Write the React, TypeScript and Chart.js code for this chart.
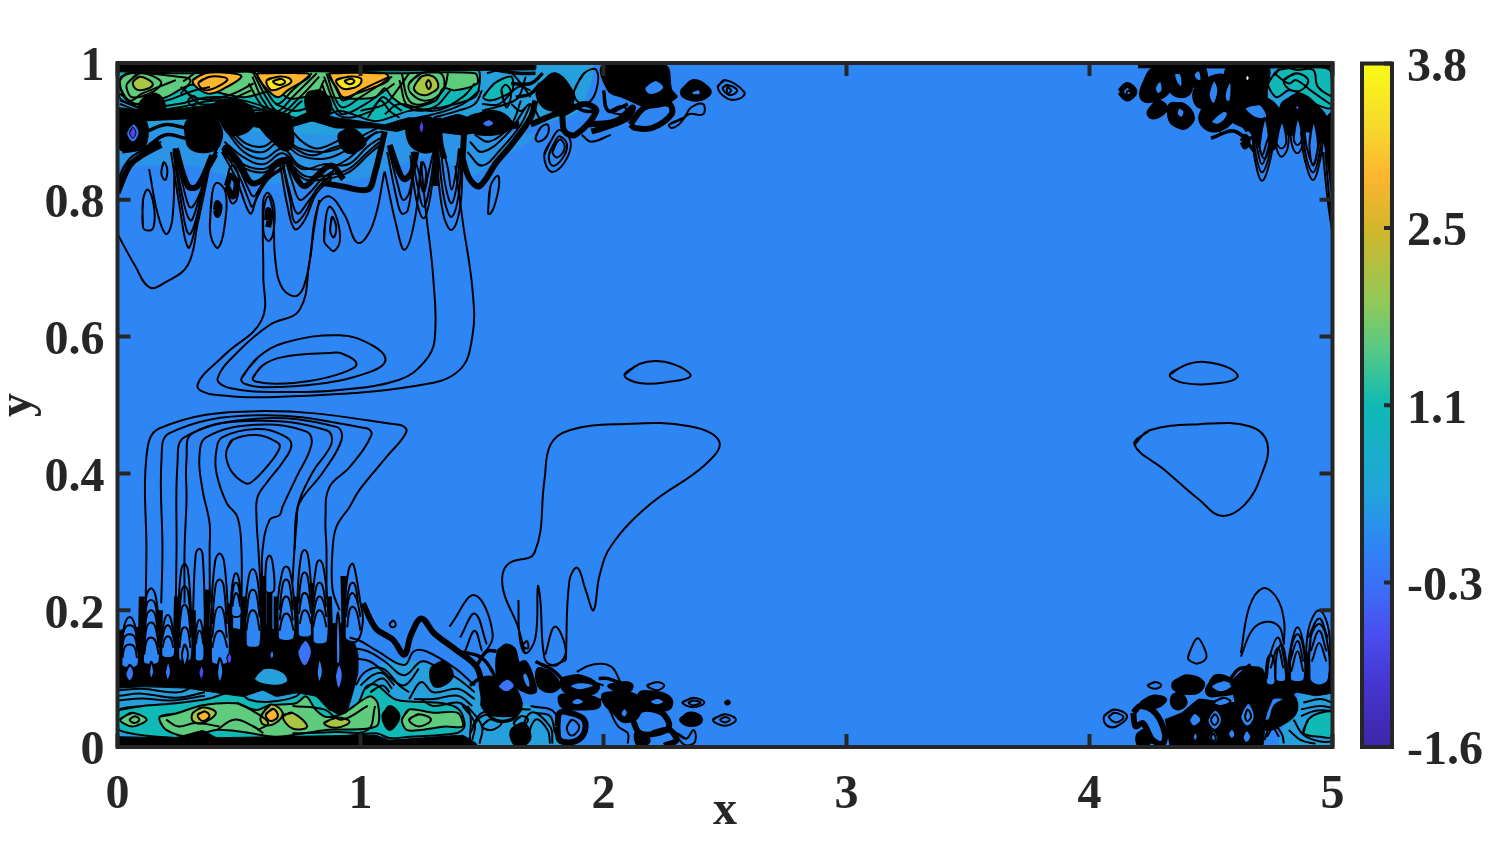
import React, { useEffect, useRef } from "react";
import { Chart, registerables } from "chart.js";

Chart.register(...registerables);

type P = [number, number];

const xTicksMax = 5;
const colorbarTicks = [-1.6, -0.3, 1.1, 2.5, 3.8];
const colorbarStops: [number, string][] = [
  [-1.6, "#3e26a8"], [-1.1, "#4536d0"], [-0.7, "#4a4ef0"], [-0.3, "#3a72f8"], [0.0, "#2e86f5"],
  [0.4, "#22a4dc"], [1.1, "#0fb9b5"], [1.5, "#50c98a"], [1.9, "#8fc95a"], [2.5, "#d3b62a"],
  [2.9, "#fdb52f"], [3.3, "#f6d92c"], [3.8, "#f9fb15"],
];

const level02Regions: P[][] = [
  [[0, 0.905], [0.5, 0.9], [1.2, 0.9], [1.72, 0.895], [1.55, 0.855], [1.45, 0.835], [1.3, 0.865], [1.0, 0.83], [0.75, 0.82], [0.5, 0.83], [0.3, 0.85], [0, 0.85]],
];
const level05Regions: P[][] = [
  [[0, 1], [1.95, 1], [1.9, 0.93], [1.72, 0.91], [1.5, 0.9], [1.2, 0.9], [0.9, 0.895], [0.5, 0.9], [0, 0.905]],
  [[0, 0.095], [0.6, 0.095], [1.0, 0.1], [1.1, 0.125], [1.25, 0.125], [1.42, 0.1], [1.55, 0.07], [1.7, 0.06], [1.8, 0.04], [1.81, 0], [0, 0]],
  [[4.86, 0.075], [5, 0.08], [5, 0], [4.78, 0], [4.8, 0.03], [4.84, 0.05]],
  [[4.66, 1], [5, 1], [5, 0.9], [4.85, 0.93], [4.72, 0.93]],
];
const level11Regions: P[][] = [
  [[0.008, 0.99], [1.48, 0.99], [1.49, 0.97], [1.47, 0.95], [1.33, 0.935], [1.2, 0.93], [1.06, 0.915], [0.92, 0.93], [0.83, 0.92], [0.73, 0.92], [0.65, 0.93], [0.38, 0.93], [0.13, 0.93], [0.05, 0.94], [0.008, 0.95]],
  [[1.505, 0.95], [1.55, 0.97], [1.62, 0.98], [1.625, 0.96], [1.58, 0.95], [1.53, 0.945]],
  [[0.005, 0.054], [0.104, 0.06], [0.241, 0.064], [0.379, 0.071], [0.488, 0.082], [0.543, 0.069], [0.625, 0.066], [0.735, 0.074], [0.776, 0.088], [0.817, 0.081], [0.9, 0.05], [0.982, 0.059], [1.023, 0.088], [1.064, 0.091], [1.147, 0.069], [1.339, 0.064], [1.408, 0.054], [1.428, 0.03], [1.394, 0.02], [1.202, 0.015], [1.119, 0.013], [1.064, 0.02], [0.79, 0.01], [0.516, 0.01], [0.241, 0.013], [0.005, 0.025]],
  [[4.735, 0.97], [4.78, 0.99], [4.99, 0.99], [4.995, 0.935], [4.93, 0.94], [4.87, 0.955], [4.82, 0.96], [4.77, 0.95]],
  [[4.88, 0.02], [4.9, 0.04], [4.95, 0.05], [5, 0.05], [5, 0.015], [4.95, 0.015]],
  [[4.78, 0.04], [4.79, 0.045], [4.805, 0.04], [4.79, 0.035]],
  [[0.44, 0.917], [0.455, 0.923], [0.47, 0.917], [0.455, 0.911]],
];
const level17Regions: P[][] = [
  [[0.012, 0.978], [0.05, 0.985], [0.28, 0.985], [0.57, 0.988], [0.82, 0.988], [1.13, 0.985], [1.47, 0.985], [1.48, 0.97], [1.39, 0.96], [1.34, 0.963], [1.31, 0.945], [1.2, 0.935], [1.13, 0.95], [1.1, 0.963], [1.06, 0.95], [0.93, 0.948], [0.82, 0.953], [0.71, 0.948], [0.65, 0.96], [0.52, 0.95], [0.38, 0.96], [0.3, 0.968], [0.2, 0.95], [0.06, 0.94], [0.02, 0.955]],
  [[0.173, 0.044], [0.241, 0.049], [0.351, 0.061], [0.488, 0.064], [0.57, 0.054], [0.625, 0.061], [0.735, 0.064], [0.776, 0.074], [0.817, 0.054], [0.859, 0.044], [0.927, 0.049], [1.037, 0.074], [1.071, 0.064], [1.064, 0.03], [0.859, 0.025], [0.653, 0.015], [0.516, 0.022], [0.406, 0.025], [0.296, 0.015], [0.2, 0.025]],
  [[0.01, 0.04], [0.06, 0.05], [0.12, 0.04], [0.06, 0.03]],
  [[1.17, 0.04], [1.2, 0.055], [1.3, 0.05], [1.4, 0.05], [1.42, 0.03], [1.35, 0.03], [1.25, 0.025], [1.19, 0.025]],
];
const level21Regions: P[][] = [
  [[0.063, 0.972], [0.09, 0.98], [0.13, 0.975], [0.145, 0.968], [0.12, 0.962], [0.08, 0.961]],
  [[1.22, 0.965], [1.25, 0.98], [1.3, 0.98], [1.32, 0.965], [1.285, 0.955], [1.26, 0.953], [1.23, 0.957]],
  [[0.31, 0.05], [0.35, 0.058], [0.405, 0.05], [0.35, 0.035], [0.31, 0.038]],
  [[0.59, 0.045], [0.63, 0.062], [0.68, 0.05], [0.65, 0.035], [0.6, 0.033]],
  [[0.68, 0.045], [0.72, 0.05], [0.78, 0.03], [0.72, 0.027]],
  [[0.85, 0.035], [0.9, 0.043], [0.955, 0.037], [0.9, 0.028]],
];
const level28Regions: P[][] = [
  [[0.31, 0.975], [0.36, 0.985], [0.47, 0.985], [0.51, 0.98], [0.45, 0.965], [0.38, 0.955], [0.33, 0.963]],
  [[0.58, 0.985], [0.78, 0.985], [0.79, 0.98], [0.7, 0.96], [0.66, 0.95], [0.62, 0.96], [0.585, 0.975]],
  [[0.875, 0.985], [1.1, 0.985], [1.115, 0.975], [1.06, 0.965], [0.98, 0.955], [0.93, 0.95], [0.9, 0.965], [0.875, 0.978]],
  [[0.335, 0.972], [0.38, 0.98], [0.44, 0.979], [0.452, 0.975], [0.41, 0.965], [0.37, 0.96], [0.345, 0.963]],
  [[0.33, 0.047], [0.36, 0.052], [0.378, 0.045], [0.35, 0.038]],
  [[0.61, 0.047], [0.64, 0.056], [0.66, 0.045], [0.63, 0.038]],
];
const level36Regions: P[][] = [
  [[0.615, 0.975], [0.66, 0.98], [0.705, 0.978], [0.715, 0.972], [0.68, 0.965], [0.64, 0.96], [0.62, 0.965]],
  [[0.9, 0.975], [0.95, 0.98], [1.0, 0.978], [1.0, 0.97], [0.965, 0.963], [0.925, 0.963]],
];

const blackStrips: P[][] = [
  [[0, 1], [1.72, 1], [1.72, 0.99], [0, 0.987]],
  [[0, 0.935], [0.12, 0.93], [0.3, 0.935], [0.42, 0.94], [0.52, 0.93], [0.6, 0.918], [0.7, 0.915], [0.8, 0.93], [0.9, 0.92], [1.0, 0.915], [1.1, 0.91], [1.2, 0.92], [1.3, 0.915], [1.4, 0.925], [1.49, 0.915], [1.55, 0.92], [1.6, 0.91], [1.65, 0.915], [1.65, 0.905], [1.5, 0.9], [1.42, 0.895], [1.3, 0.9], [1.2, 0.905], [1.15, 0.9], [1.05, 0.905], [0.9, 0.905], [0.8, 0.915], [0.7, 0.905], [0.6, 0.905], [0.5, 0.91], [0.4, 0.915], [0.28, 0.918], [0.1, 0.915], [0, 0.91]],
  [[0.005, 0.015], [0.241, 0.014], [0.351, 0.024], [0.406, 0.014], [0.625, 0.015], [1.064, 0.017], [1.119, 0.01], [1.42, 0.017], [1.476, 0.005], [1.48, 0], [0, 0]],
  [[0, 0.17], [0.09, 0.175], [0.14, 0.165], [0.25, 0.17], [0.31, 0.175], [0.38, 0.175], [0.455, 0.175], [0.53, 0.17], [0.6, 0.18], [0.65, 0.17], [0.735, 0.175], [0.804, 0.175], [0.872, 0.18], [0.927, 0.18], [0.961, 0.166], [0.989, 0.137], [0.989, 0.108], [0.968, 0.079], [0.941, 0.05], [0.872, 0.054], [0.817, 0.074], [0.735, 0.079], [0.653, 0.074], [0.598, 0.083], [0.516, 0.074], [0.379, 0.081], [0.282, 0.086], [0.104, 0.088], [0, 0.086]],
  [[4.2, 1], [5, 1], [5, 0.993], [4.2, 0.993]],
  [[4.58, 0.095], [4.64, 0.115], [4.71, 0.115], [4.73, 0.1], [4.78, 0.12], [4.81, 0.1], [4.84, 0.125], [4.89, 0.1], [4.9, 0.14], [5, 0.14], [5, 0.08], [4.93, 0.075], [4.85, 0.08], [4.8, 0.06], [4.72, 0.05], [4.6, 0.06]],
  [[4.31, 0.04], [4.38, 0.05], [4.45, 0.07], [4.55, 0.065], [4.6, 0.065], [4.68, 0.07], [4.72, 0.05], [4.71, 0], [4.33, 0]],
  [[4.95, 0.91], [5, 0.93], [5, 0.82], [4.98, 0.85]],
];

const blackMasses: P[][] = [
  [[0.09, 0.94], [0.13, 0.955], [0.18, 0.95], [0.195, 0.925], [0.15, 0.918], [0.1, 0.92]],
  [[0.008, 0.917], [0.06, 0.92], [0.115, 0.915], [0.12, 0.885], [0.09, 0.875], [0.008, 0.875]],
  [[0.285, 0.915], [0.35, 0.92], [0.42, 0.91], [0.42, 0.88], [0.37, 0.87], [0.3, 0.875], [0.28, 0.895]],
  [[0.41, 0.945], [0.5, 0.945], [0.56, 0.93], [0.55, 0.905], [0.47, 0.895], [0.43, 0.91], [0.41, 0.93]],
  [[0.56, 0.925], [0.7, 0.925], [0.72, 0.905], [0.72, 0.88], [0.69, 0.872], [0.65, 0.882], [0.6, 0.9]],
  [[0.78, 0.955], [0.83, 0.96], [0.875, 0.945], [0.87, 0.925], [0.82, 0.917], [0.78, 0.93]],
  [[0.91, 0.895], [0.96, 0.905], [1.02, 0.885], [0.99, 0.872], [0.94, 0.87]],
  [[1.2, 0.915], [1.29, 0.92], [1.3, 0.885], [1.29, 0.87], [1.22, 0.875], [1.19, 0.895]],
  [[1.44, 0.92], [1.55, 0.93], [1.62, 0.915], [1.6, 0.9], [1.5, 0.895], [1.44, 0.905]],
  [[1.73, 0.965], [1.8, 0.985], [1.87, 0.96], [1.87, 0.94], [1.8, 0.93], [1.74, 0.94]],
  [[2.0, 0.997], [2.25, 0.997], [2.28, 0.96], [2.3, 0.95], [2.2, 0.935], [2.08, 0.95], [2.02, 0.96]],
  [[2.32, 0.96], [2.37, 0.975], [2.43, 0.965], [2.44, 0.955], [2.39, 0.945], [2.33, 0.95]],
  [[1.09, 0.045], [1.12, 0.06], [1.16, 0.045], [1.12, 0.025]],
  [[1.29, 0.115], [1.34, 0.125], [1.38, 0.105], [1.34, 0.09], [1.3, 0.09]],
  [[1.565, 0.14], [1.6, 0.15], [1.64, 0.14], [1.645, 0.09], [1.6, 0.09], [1.565, 0.1]],
  [[1.5, 0.1], [1.6, 0.1], [1.66, 0.07], [1.65, 0.05], [1.6, 0.045], [1.52, 0.05], [1.5, 0.07]],
  [[1.64, 0.12], [1.68, 0.125], [1.72, 0.09], [1.72, 0.08], [1.68, 0.08], [1.64, 0.09]],
  [[1.73, 0.115], [1.78, 0.11], [1.82, 0.09], [1.78, 0.08], [1.73, 0.09]],
  [[1.83, 0.1], [1.9, 0.105], [1.98, 0.09], [1.96, 0.078], [1.87, 0.077], [1.83, 0.085]],
  [[1.82, 0.075], [1.9, 0.077], [1.98, 0.07], [1.98, 0.058], [1.9, 0.055], [1.83, 0.058]],
  [[2.02, 0.09], [2.09, 0.095], [2.12, 0.09], [2.1, 0.08], [2.05, 0.082]],
  [[2.0, 0.078], [2.1, 0.08], [2.15, 0.07], [2.15, 0.05], [2.13, 0.04], [2.08, 0.037], [2.04, 0.05], [2.0, 0.065]],
  [[2.15, 0.08], [2.23, 0.08], [2.28, 0.07], [2.27, 0.055], [2.2, 0.055], [2.15, 0.06]],
  [[2.13, 0.02], [2.16, 0.022], [2.19, 0.01], [2.17, 0.002], [2.14, 0.002]],
  [[2.315, 0.04], [2.35, 0.05], [2.4, 0.045], [2.4, 0.035], [2.35, 0.031]],
  [[2.5, 0.065], [2.511, 0.068], [2.52, 0.065], [2.511, 0.062]],
  [[1.62, 0.025], [1.67, 0.035], [1.7, 0.015], [1.67, 0.002], [1.63, 0.005]],
  [[4.57, 0.995], [4.73, 0.995], [4.73, 0.96], [4.72, 0.94], [4.66, 0.935], [4.58, 0.95]],
  [[4.79, 0.94], [4.86, 0.955], [4.93, 0.94], [4.99, 0.91], [4.99, 0.88], [4.9, 0.9], [4.82, 0.895], [4.79, 0.91]],
  [[4.21, 0.96], [4.25, 0.99], [4.31, 0.997], [4.33, 0.96], [4.27, 0.945], [4.22, 0.945]],
  [[4.33, 0.997], [4.41, 0.997], [4.42, 0.96], [4.38, 0.95], [4.33, 0.96]],
  [[4.42, 0.995], [4.47, 0.995], [4.48, 0.97], [4.43, 0.965]],
  [[4.24, 0.93], [4.28, 0.945], [4.32, 0.935], [4.29, 0.922], [4.25, 0.92]],
  [[4.33, 0.94], [4.39, 0.94], [4.43, 0.92], [4.4, 0.905], [4.37, 0.905], [4.33, 0.915]],
  [[4.43, 0.96], [4.5, 0.98], [4.56, 0.98], [4.54, 0.94], [4.45, 0.935]],
  [[4.46, 0.93], [4.52, 0.95], [4.6, 0.95], [4.6, 0.92], [4.52, 0.9], [4.46, 0.91]],
  [[4.58, 0.92], [4.65, 0.955], [4.72, 0.95], [4.78, 0.93], [4.77, 0.88], [4.72, 0.87], [4.66, 0.9]],
  [[4.195, 0.018], [4.225, 0.025], [4.26, 0.01], [4.23, 0.002], [4.2, 0.002]],
  [[4.34, 0.075], [4.37, 0.08], [4.4, 0.065], [4.37, 0.055], [4.34, 0.06]],
  [[4.345, 0.095], [4.4, 0.105], [4.47, 0.095], [4.45, 0.08], [4.39, 0.078], [4.345, 0.085]],
  [[4.48, 0.085], [4.52, 0.105], [4.6, 0.095], [4.6, 0.08], [4.53, 0.075], [4.49, 0.075]],
  [[4.21, 0.065], [4.26, 0.075], [4.315, 0.07], [4.28, 0.058], [4.22, 0.058]],
  [[4.7, 0.06], [4.76, 0.085], [4.84, 0.075], [4.85, 0.05], [4.78, 0.03], [4.74, 0.025], [4.7, 0.03]],
];

const blueHoles: P[][] = [
  [[0.016, 0.12], [0.018, 0.15], [0.03, 0.18], [0.05, 0.19], [0.07, 0.18], [0.082, 0.15], [0.085, 0.12], [0.05, 0.115]],
  [[0.105, 0.125], [0.107, 0.18], [0.12, 0.222], [0.138, 0.232], [0.156, 0.222], [0.17, 0.18], [0.172, 0.125], [0.138, 0.12]],
  [[0.18, 0.135], [0.182, 0.16], [0.194, 0.186], [0.207, 0.193], [0.22, 0.186], [0.232, 0.16], [0.235, 0.135], [0.207, 0.13]],
  [[0.25, 0.13], [0.25, 0.2], [0.262, 0.258], [0.276, 0.268], [0.29, 0.258], [0.302, 0.2], [0.305, 0.13], [0.276, 0.125]],
  [[0.318, 0.13], [0.32, 0.16], [0.328, 0.18], [0.337, 0.186], [0.346, 0.18], [0.354, 0.16], [0.356, 0.13], [0.337, 0.125]],
  [[0.385, 0.125], [0.386, 0.2], [0.402, 0.272], [0.42, 0.283], [0.438, 0.272], [0.454, 0.2], [0.458, 0.125], [0.42, 0.12]],
  [[0.468, 0.195], [0.469, 0.225], [0.478, 0.248], [0.488, 0.254], [0.498, 0.248], [0.507, 0.225], [0.51, 0.195], [0.488, 0.19]],
  [[0.528, 0.15], [0.528, 0.21], [0.542, 0.252], [0.557, 0.26], [0.572, 0.252], [0.586, 0.21], [0.588, 0.15], [0.557, 0.145]],
  [[0.608, 0.23], [0.612, 0.27], [0.625, 0.28], [0.638, 0.27], [0.645, 0.23], [0.625, 0.225]],
  [[0.66, 0.16], [0.66, 0.215], [0.678, 0.256], [0.694, 0.264], [0.71, 0.256], [0.726, 0.215], [0.728, 0.16], [0.694, 0.155]],
  [[0.742, 0.165], [0.742, 0.23], [0.756, 0.28], [0.77, 0.288], [0.784, 0.28], [0.797, 0.23], [0.8, 0.165], [0.77, 0.16]],
  [[0.803, 0.155], [0.804, 0.22], [0.818, 0.265], [0.831, 0.273], [0.846, 0.265], [0.862, 0.22], [0.865, 0.155], [0.831, 0.15]],
  [[0.9, 0.125], [0.9, 0.17], [0.907, 0.197], [0.915, 0.17], [0.916, 0.125], [0.907, 0.12]],
  [[0.935, 0.16], [0.938, 0.22], [0.952, 0.26], [0.968, 0.268], [0.982, 0.25], [1.0, 0.21], [1.01, 0.185], [0.985, 0.155]],
  [[0.13, 0.11], [0.138, 0.125], [0.15, 0.11], [0.138, 0.1]],
  [[0.265, 0.135], [0.276, 0.15], [0.29, 0.135], [0.276, 0.12]],
  [[0.41, 0.11], [0.42, 0.13], [0.435, 0.11], [0.42, 0.095]],
  [[0.82, 0.11], [0.83, 0.13], [0.845, 0.11], [0.83, 0.095]],
  [[2.17, 0.965], [2.21, 0.975], [2.25, 0.965], [2.22, 0.955], [2.18, 0.955]],
  [[2.36, 0.957], [2.39, 0.962], [2.4, 0.955], [2.37, 0.953]],
  [[1.665, 0.105], [1.68, 0.11], [1.7, 0.09], [1.685, 0.087]],
  [[1.86, 0.09], [1.9, 0.095], [1.96, 0.09], [1.9, 0.083]],
  [[1.865, 0.066], [1.89, 0.072], [1.92, 0.066], [1.89, 0.061]],
  [[2.07, 0.05], [2.085, 0.057], [2.1, 0.05], [2.085, 0.043]],
  [[2.19, 0.067], [2.22, 0.072], [2.25, 0.066], [2.22, 0.061]],
  [[4.27, 0.965], [4.29, 0.975], [4.3, 0.96], [4.28, 0.955]],
  [[4.35, 0.985], [4.375, 0.985], [4.38, 0.965], [4.36, 0.97]],
  [[4.43, 0.985], [4.45, 0.99], [4.46, 0.975], [4.44, 0.975]],
  [[4.49, 0.955], [4.51, 0.975], [4.53, 0.96], [4.51, 0.94]],
  [[4.56, 0.96], [4.58, 0.975], [4.58, 0.945], [4.56, 0.945]],
  [[4.37, 0.935], [4.39, 0.93], [4.38, 0.92], [4.36, 0.925]],
  [[4.5, 0.915], [4.55, 0.93], [4.57, 0.925], [4.53, 0.91]],
  [[4.64, 0.935], [4.7, 0.94], [4.73, 0.92], [4.68, 0.92]],
  [[4.7, 0.88], [4.72, 0.92], [4.74, 0.88], [4.72, 0.86]],
  [[4.77, 0.885], [4.79, 0.915], [4.81, 0.885], [4.79, 0.875]],
  [[4.84, 0.89], [4.855, 0.92], [4.875, 0.89], [4.855, 0.88]],
  [[4.905, 0.88], [4.92, 0.915], [4.94, 0.88], [4.92, 0.85]],
  [[4.725, 0.095], [4.73, 0.125], [4.745, 0.135], [4.76, 0.125], [4.765, 0.095], [4.745, 0.09]],
  [[4.765, 0.1], [4.77, 0.135], [4.79, 0.15], [4.805, 0.135], [4.81, 0.1], [4.79, 0.095]],
  [[4.825, 0.1], [4.83, 0.145], [4.856, 0.165], [4.88, 0.145], [4.885, 0.1], [4.856, 0.095]],
  [[4.905, 0.1], [4.91, 0.16], [4.945, 0.18], [4.975, 0.16], [4.985, 0.1], [4.945, 0.09]],
  [[4.72, 0.04], [4.75, 0.07], [4.8, 0.07], [4.76, 0.06], [4.74, 0.04]],
  [[4.485, 0.04], [4.515, 0.055], [4.545, 0.04], [4.515, 0.025]],
  [[4.62, 0.045], [4.65, 0.065], [4.68, 0.045], [4.65, 0.03]],
  [[4.49, 0.015], [4.508, 0.024], [4.53, 0.012], [4.508, 0.006]],
  [[4.57, 0.02], [4.585, 0.027], [4.6, 0.018], [4.585, 0.012]],
  [[4.63, 0.015], [4.645, 0.025], [4.665, 0.015], [4.645, 0.006]],
  [[4.41, 0.04], [4.43, 0.05], [4.46, 0.04], [4.43, 0.03]],
  [[4.425, 0.015], [4.435, 0.022], [4.445, 0.015], [4.435, 0.009]],
  [[4.51, 0.065], [4.55, 0.072], [4.58, 0.066], [4.54, 0.06]],
  [[4.5, 0.09], [4.55, 0.098], [4.59, 0.09], [4.54, 0.08]],
];
const lightCells: P[][] = [
  [[0.56, 0.1], [0.6, 0.115], [0.68, 0.11], [0.7, 0.095], [0.63, 0.09]],
];
const deepBlueSpots: P[][] = [
  [[0.035, 0.898], [0.063, 0.912], [0.091, 0.898], [0.063, 0.884]],
  [[1.5, 0.912], [1.524, 0.918], [1.55, 0.912], [1.524, 0.906]],
  [[0.032, 0.108], [0.05, 0.12], [0.068, 0.108], [0.05, 0.096]],
  [[0.195, 0.11], [0.207, 0.125], [0.22, 0.11], [0.207, 0.098]],
  [[0.74, 0.14], [0.77, 0.157], [0.8, 0.14], [0.77, 0.118]],
  [[0.895, 0.105], [0.91, 0.122], [0.927, 0.105], [0.91, 0.085]],
  [[1.565, 0.09], [1.6, 0.1], [1.635, 0.09], [1.6, 0.08]],
  [[0.625, 0.135], [0.635, 0.142], [0.645, 0.135], [0.635, 0.128]],
];
const indigoSpots: P[][] = [
  [[0.05, 0.898], [0.063, 0.906], [0.076, 0.898], [0.063, 0.89]],
  [[1.242, 0.907], [1.25, 0.915], [1.26, 0.907], [1.25, 0.898]],
  [[4.848, 0.935], [4.855, 0.938], [4.862, 0.935], [4.855, 0.932]],
  [[0.335, 0.11], [0.345, 0.118], [0.355, 0.11], [0.345, 0.1]],
  [[0.45, 0.13], [0.46, 0.137], [0.47, 0.13], [0.46, 0.122]],
];
const whiteSpots: P[][] = [
  [[4.645, 0.978], [4.65, 0.981], [4.655, 0.978], [4.65, 0.975]],
];

const contoursClosed: P[][] = [
  [[0.556, 0.539], [0.597, 0.558], [0.679, 0.57], [0.872, 0.576], [0.926, 0.575], [0.984, 0.56], [0.926, 0.547], [0.79, 0.535], [0.654, 0.531], [0.572, 0.534]],
  [[0.51, 0.539], [0.576, 0.569], [0.687, 0.591], [0.914, 0.602], [1.045, 0.588], [1.103, 0.566], [1.037, 0.548], [0.831, 0.531], [0.605, 0.526], [0.523, 0.531]],
  [[0.449, 0.434], [0.473, 0.449], [0.572, 0.456], [0.654, 0.446], [0.667, 0.437], [0.613, 0.409], [0.551, 0.387], [0.523, 0.386], [0.473, 0.401], [0.449, 0.42]],
  [[4.33, 0.544], [4.391, 0.558], [4.473, 0.563], [4.576, 0.554], [4.609, 0.541], [4.535, 0.532], [4.391, 0.532]],
  [[2.086, 0.544], [2.148, 0.56], [2.23, 0.564], [2.313, 0.556], [2.358, 0.542], [2.272, 0.534], [2.148, 0.532]],
  [[4.185, 0.442], [4.247, 0.463], [4.453, 0.472], [4.658, 0.469], [4.732, 0.444], [4.708, 0.398], [4.638, 0.354], [4.543, 0.338], [4.453, 0.361], [4.309, 0.405]],
  [[0.85, 0.74], [0.86, 0.78], [0.875, 0.79], [0.905, 0.77], [0.915, 0.74], [0.89, 0.725], [0.87, 0.73]],
  [[0.875, 0.755], [0.883, 0.775], [0.9, 0.76], [0.89, 0.745]],
  [[0.6, 0.755], [0.6, 0.8], [0.62, 0.81], [0.645, 0.79], [0.64, 0.75], [0.62, 0.74]],
  [[0.105, 0.76], [0.105, 0.8], [0.125, 0.815], [0.15, 0.79], [0.148, 0.76], [0.125, 0.755]],
  [[0.18, 0.84], [0.19, 0.855], [0.205, 0.845], [0.2, 0.83], [0.19, 0.83]],
  [[0.38, 0.76], [0.39, 0.81], [0.41, 0.825], [0.445, 0.81], [0.44, 0.76], [0.415, 0.73], [0.39, 0.74]],
  [[0.45, 0.82], [0.46, 0.845], [0.48, 0.85], [0.5, 0.83], [0.49, 0.8], [0.47, 0.795]],
  [[1.245, 0.83], [1.255, 0.855], [1.27, 0.84], [1.258, 0.815]],
  [[1.525, 0.78], [1.535, 0.82], [1.565, 0.835], [1.57, 0.82], [1.55, 0.79], [1.535, 0.78]],
  [[0.04, 0.97], [0.09, 0.985], [0.15, 0.98], [0.18, 0.97], [0.13, 0.955], [0.06, 0.95], [0.04, 0.96]],
  [[1.2, 0.97], [1.25, 0.985], [1.33, 0.985], [1.34, 0.96], [1.27, 0.945], [1.21, 0.955]],
  [[0.64, 0.973], [0.67, 0.977], [0.69, 0.972], [0.665, 0.968]],
  [[0.935, 0.974], [0.96, 0.977], [0.975, 0.973], [0.955, 0.969]],
  [[1.27, 0.97], [1.28, 0.975], [1.29, 0.968], [1.28, 0.962]],
  [[0.29, 0.945], [0.31, 0.952], [0.33, 0.945], [0.31, 0.937]],
  [[1.6, 0.935], [1.58, 0.96], [1.6, 0.968], [1.62, 0.955]],
  [[2.47, 0.965], [2.5, 0.975], [2.58, 0.957], [2.56, 0.948], [2.51, 0.948]],
  [[2.49, 0.963], [2.51, 0.968], [2.55, 0.96], [2.52, 0.953]],
  [[2.51, 0.965], [2.525, 0.96], [2.51, 0.955]],
  [[2.27, 0.91], [2.33, 0.92], [2.36, 0.935], [2.41, 0.94], [2.41, 0.925], [2.35, 0.925], [2.31, 0.91], [2.28, 0.905]],
  [[2.03, 0.93], [2.07, 0.937], [2.1, 0.93], [2.07, 0.925]],
  [[1.72, 0.89], [1.74, 0.905], [1.77, 0.91], [1.77, 0.895], [1.735, 0.885]],
  [[1.756, 0.865], [1.79, 0.89], [1.82, 0.902], [1.865, 0.885], [1.84, 0.855], [1.785, 0.841]],
  [[1.775, 0.865], [1.8, 0.885], [1.82, 0.893], [1.85, 0.88], [1.83, 0.86], [1.79, 0.85]],
  [[1.79, 0.87], [1.81, 0.885], [1.825, 0.888], [1.84, 0.875], [1.81, 0.862]],
  [[1.88, 0.96], [1.92, 0.985], [1.97, 0.99], [1.97, 0.96], [1.93, 0.94], [1.89, 0.945]],
  [[1.12, 0.18], [1.135, 0.185], [1.145, 0.178], [1.13, 0.175]],
  [[1.67, 0.15], [1.685, 0.155], [1.69, 0.145], [1.675, 0.145]],
  [[1.85, 0.03], [1.87, 0.04], [1.9, 0.03], [1.88, 0.018], [1.86, 0.018]],
  [[2.18, 0.09], [2.22, 0.095], [2.25, 0.09], [2.22, 0.083]],
  [[2.325, 0.065], [2.37, 0.072], [2.415, 0.065], [2.37, 0.058]],
  [[2.35, 0.065], [2.37, 0.068], [2.4, 0.065], [2.37, 0.061]],
  [[2.45, 0.04], [2.5, 0.048], [2.545, 0.04], [2.5, 0.031]],
  [[2.48, 0.04], [2.5, 0.044], [2.52, 0.04], [2.5, 0.036]],
  [[2.3, 0.02], [2.34, 0.012], [2.37, 0.025], [2.38, 0.015], [2.37, 0.005], [2.33, 0.004]],
  [[1.5, 0.03], [1.53, 0.04], [1.58, 0.035], [1.54, 0.025]],
  [[1.63, 0.035], [1.66, 0.045], [1.69, 0.04], [1.66, 0.03]],
  [[1.325, 0.11], [1.34, 0.112], [1.345, 0.105], [1.33, 0.103]],
  [[1.2, 0.04], [1.24, 0.048], [1.29, 0.04], [1.24, 0.03]],
  [[0.05, 0.04], [0.07, 0.045], [0.09, 0.04], [0.07, 0.035]],
  [[4.155, 0.958], [4.165, 0.96], [4.17, 0.955], [4.155, 0.953]],
  [[4.405, 0.13], [4.418, 0.144], [4.445, 0.159], [4.473, 0.144], [4.48, 0.13], [4.445, 0.122], [4.418, 0.125]],
  [[4.24, 0.09], [4.27, 0.095], [4.295, 0.09], [4.27, 0.085]],
  [[4.06, 0.045], [4.1, 0.055], [4.155, 0.045], [4.11, 0.03], [4.07, 0.032]],
  [[4.08, 0.044], [4.1, 0.05], [4.14, 0.044], [4.11, 0.036]],
  [[4.8, 0.975], [4.85, 0.985], [4.9, 0.975], [4.87, 0.96], [4.82, 0.962]],
  [[4.5, 0.015], [4.508, 0.02], [4.52, 0.012], [4.508, 0.009]],
  [[4.5, 0.04], [4.515, 0.048], [4.53, 0.04], [4.515, 0.032]],
  [[4.64, 0.045], [4.65, 0.055], [4.665, 0.045], [4.65, 0.038]],
];

const contoursOpen: P[][] = [
  [[0.51, 0.2], [0.51, 0.288], [0.494, 0.336], [0.449, 0.357], [0.407, 0.401], [0.407, 0.434], [0.432, 0.453], [0.572, 0.465], [0.679, 0.456], [0.716, 0.442], [0.679, 0.416], [0.613, 0.386], [0.576, 0.365], [0.572, 0.336], [0.58, 0.288], [0.59, 0.23]],
  [[0.38, 0.21], [0.379, 0.288], [0.379, 0.327], [0.35, 0.376], [0.337, 0.424], [0.366, 0.453], [0.572, 0.471], [0.778, 0.461], [0.798, 0.442], [0.737, 0.395], [0.679, 0.351], [0.667, 0.339], [0.626, 0.332], [0.597, 0.288], [0.595, 0.24]],
  [[0.276, 0.21], [0.276, 0.288], [0.284, 0.361], [0.284, 0.42], [0.309, 0.459], [0.572, 0.477], [0.86, 0.463], [0.881, 0.444], [0.802, 0.401], [0.741, 0.351], [0.728, 0.288], [0.72, 0.24]],
  [[0.24, 0.21], [0.243, 0.288], [0.247, 0.415], [0.276, 0.453], [0.572, 0.48], [0.901, 0.468], [0.922, 0.449], [0.844, 0.401], [0.749, 0.357], [0.737, 0.327], [0.728, 0.288]],
  [[0.18, 0.21], [0.185, 0.288], [0.181, 0.42], [0.214, 0.459], [0.572, 0.485], [1.025, 0.466], [1.045, 0.456], [0.955, 0.409], [0.872, 0.38], [0.856, 0.336], [0.86, 0.288], [0.86, 0.22]],
  [[0.115, 0.19], [0.119, 0.288], [0.119, 0.424], [0.173, 0.466], [0.572, 0.491], [1.16, 0.471], [1.189, 0.461], [1.107, 0.424], [0.996, 0.376], [0.955, 0.351], [0.901, 0.322], [0.885, 0.288], [0.885, 0.23], [0.914, 0.2]],
  [[1.099, 0.841], [1.05, 0.763], [0.989, 0.737], [0.934, 0.778], [0.872, 0.805], [0.824, 0.79], [0.79, 0.71], [0.749, 0.639], [0.626, 0.617], [0.502, 0.58], [0.412, 0.539], [0.461, 0.525], [0.667, 0.519], [0.914, 0.522], [1.16, 0.537], [1.263, 0.563], [1.305, 0.595], [1.3, 0.683], [1.27, 0.78], [1.25, 0.85]],
  [[1.39, 0.85], [1.42, 0.77], [1.461, 0.668], [1.461, 0.602], [1.407, 0.551], [1.243, 0.529], [0.749, 0.513], [0.399, 0.515], [0.329, 0.529], [0.44, 0.573], [0.593, 0.624], [0.6, 0.69], [0.6, 0.78], [0.62, 0.805], [0.64, 0.78], [0.65, 0.71], [0.68, 0.67], [0.74, 0.66], [0.78, 0.69], [0.81, 0.76], [0.83, 0.8]],
  [[1.1, 0.841], [1.147, 0.763], [1.181, 0.727], [1.222, 0.768], [1.25, 0.856]],
  [[0, 0.75], [0.07, 0.705], [0.132, 0.672], [0.2, 0.68], [0.29, 0.705], [0.33, 0.765], [0.38, 0.85]],
  [[0.13, 0.845], [0.165, 0.78], [0.2, 0.75], [0.225, 0.77], [0.235, 0.85]],
  [[0.22, 0.87], [0.26, 0.78], [0.28, 0.74], [0.295, 0.73], [0.32, 0.76], [0.36, 0.83], [0.41, 0.865]],
  [[0.23, 0.87], [0.265, 0.79], [0.285, 0.755], [0.3, 0.75], [0.33, 0.78], [0.37, 0.84], [0.41, 0.87]],
  [[0.23, 0.875], [0.27, 0.8], [0.29, 0.775], [0.305, 0.77], [0.33, 0.795], [0.375, 0.85], [0.41, 0.875]],
  [[0.235, 0.875], [0.27, 0.82], [0.295, 0.79], [0.31, 0.79], [0.34, 0.81], [0.38, 0.855], [0.41, 0.875]],
  [[0.43, 0.87], [0.49, 0.83], [0.53, 0.79], [0.55, 0.78], [0.57, 0.8], [0.62, 0.83], [0.68, 0.845]],
  [[0.43, 0.875], [0.5, 0.835], [0.54, 0.8], [0.555, 0.79], [0.58, 0.81], [0.63, 0.835], [0.69, 0.85]],
  [[0.44, 0.875], [0.5, 0.845], [0.54, 0.815], [0.56, 0.805], [0.59, 0.82], [0.64, 0.845], [0.7, 0.855]],
  [[0.67, 0.85], [0.7, 0.79], [0.73, 0.757], [0.77, 0.77], [0.82, 0.81], [0.88, 0.83]],
  [[0.68, 0.85], [0.71, 0.8], [0.73, 0.767], [0.77, 0.78], [0.82, 0.815], [0.88, 0.835]],
  [[0.68, 0.855], [0.71, 0.81], [0.74, 0.78], [0.78, 0.795], [0.83, 0.82], [0.89, 0.84]],
  [[0.69, 0.86], [0.72, 0.825], [0.75, 0.8], [0.79, 0.81], [0.84, 0.83], [0.9, 0.845]],
  [[0.45, 0.9], [0.52, 0.87], [0.6, 0.86], [0.68, 0.875], [0.75, 0.85], [0.85, 0.845], [0.95, 0.86], [1.05, 0.895], [1.09, 0.9]],
  [[0.47, 0.895], [0.53, 0.875], [0.6, 0.87], [0.67, 0.885], [0.75, 0.865], [0.85, 0.86], [0.93, 0.87], [1.0, 0.885], [1.07, 0.9]],
  [[0.66, 0.895], [0.73, 0.875], [0.8, 0.865], [0.88, 0.875], [0.95, 0.885], [0.98, 0.9]],
  [[0.72, 0.9], [0.76, 0.885], [0.82, 0.875], [0.9, 0.885], [0.94, 0.895]],
  [[0.43, 0.875], [0.5, 0.855], [0.6, 0.845], [0.68, 0.86], [0.77, 0.835], [0.85, 0.835], [0.95, 0.845], [1.03, 0.87], [1.08, 0.885]],
  [[0.43, 0.87], [0.5, 0.85], [0.6, 0.84], [0.68, 0.855], [0.77, 0.83], [0.85, 0.83], [0.95, 0.84], [1.03, 0.865], [1.08, 0.88]],
  [[0.44, 0.885], [0.52, 0.862], [0.6, 0.852], [0.68, 0.868], [0.76, 0.845], [0.85, 0.852], [0.95, 0.852], [1.03, 0.878], [1.08, 0.89]],
  [[0.46, 0.905], [0.53, 0.882], [0.6, 0.878], [0.67, 0.892], [0.75, 0.875], [0.85, 0.87], [0.93, 0.878], [1.0, 0.892], [1.07, 0.905]],
  [[1.11, 0.87], [1.15, 0.8], [1.17, 0.78], [1.195, 0.785], [1.22, 0.85]],
  [[1.115, 0.875], [1.155, 0.82], [1.175, 0.8], [1.2, 0.81], [1.225, 0.86]],
  [[1.205, 0.865], [1.23, 0.8], [1.26, 0.773], [1.285, 0.8], [1.31, 0.87]],
  [[1.21, 0.87], [1.235, 0.82], [1.26, 0.79], [1.285, 0.82], [1.305, 0.87]],
  [[1.215, 0.87], [1.24, 0.84], [1.26, 0.81], [1.28, 0.84], [1.3, 0.87]],
  [[1.31, 0.87], [1.34, 0.78], [1.375, 0.756], [1.41, 0.79], [1.42, 0.86]],
  [[1.32, 0.87], [1.345, 0.8], [1.375, 0.775], [1.405, 0.81], [1.415, 0.87]],
  [[1.33, 0.875], [1.35, 0.82], [1.375, 0.795], [1.4, 0.83], [1.41, 0.875]],
  [[1.34, 0.875], [1.36, 0.845], [1.375, 0.815], [1.395, 0.845], [1.405, 0.875]],
  [[1.44, 0.87], [1.5, 0.85], [1.58, 0.875], [1.66, 0.91], [1.7, 0.94]],
  [[1.45, 0.885], [1.5, 0.87], [1.6, 0.895], [1.68, 0.935]],
  [[1.47, 0.895], [1.53, 0.885], [1.62, 0.91], [1.66, 0.945]],
  [[0, 0.83], [0.05, 0.86], [0.12, 0.875], [0.18, 0.885]],
  [[0, 0.82], [0.03, 0.85], [0.08, 0.86]],
  [[0.008, 0.965], [0.05, 0.945], [0.1, 0.955], [0.17, 0.965], [0.24, 0.975]],
  [[0.01, 0.945], [0.1, 0.935], [0.25, 0.94], [0.38, 0.95], [0.52, 0.945], [0.65, 0.93]],
  [[0.01, 0.94], [0.1, 0.93], [0.25, 0.935], [0.4, 0.945], [0.52, 0.94], [0.65, 0.925]],
  [[0.01, 0.955], [0.08, 0.94], [0.2, 0.945], [0.3, 0.958], [0.38, 0.965]],
  [[0.01, 0.975], [0.04, 0.985], [0.25, 0.98], [0.3, 0.975], [0.26, 0.955]],
  [[0.65, 0.94], [0.73, 0.93], [0.8, 0.94], [0.85, 0.975]],
  [[1.0, 0.93], [1.1, 0.94], [1.15, 0.96], [1.2, 0.985]],
  [[1.1, 0.925], [1.16, 0.94], [1.3, 0.93], [1.42, 0.95], [1.47, 0.97]],
  [[1.15, 0.915], [1.3, 0.925], [1.42, 0.94], [1.49, 0.96]],
  [[1.3, 0.92], [1.4, 0.93], [1.47, 0.94], [1.5, 0.96]],
  [[1.5, 0.93], [1.6, 0.94], [1.65, 0.95], [1.68, 0.98]],
  [[0.27, 0.973], [0.35, 0.99], [0.5, 0.99], [0.57, 0.985]],
  [[0.29, 0.955], [0.34, 0.94], [0.45, 0.945], [0.55, 0.96]],
  [[0.26, 0.965], [0.33, 0.948], [0.45, 0.952], [0.56, 0.97]],
  [[0.56, 0.985], [0.62, 0.945], [0.66, 0.93], [0.72, 0.95], [0.82, 0.985]],
  [[0.555, 0.98], [0.6, 0.945], [0.66, 0.925], [0.75, 0.95], [0.83, 0.98]],
  [[0.54, 0.97], [0.6, 0.935], [0.67, 0.92], [0.76, 0.945]],
  [[0.57, 0.985], [0.62, 0.955], [0.66, 0.94], [0.72, 0.96], [0.8, 0.985]],
  [[0.86, 0.985], [0.9, 0.945], [0.93, 0.935], [1.0, 0.95], [1.13, 0.98]],
  [[0.85, 0.98], [0.9, 0.935], [0.93, 0.925], [1.02, 0.94], [1.14, 0.97]],
  [[0.84, 0.97], [0.89, 0.93], [0.95, 0.92], [1.05, 0.93]],
  [[0.87, 0.985], [0.91, 0.955], [0.93, 0.945], [1.0, 0.96], [1.12, 0.98]],
  [[1.17, 0.985], [1.2, 0.945], [1.26, 0.94], [1.34, 0.96], [1.36, 0.985]],
  [[1.16, 0.975], [1.2, 0.935], [1.3, 0.935], [1.37, 0.96]],
  [[1.03, 0.92], [1.08, 0.945], [1.12, 0.93], [1.16, 0.92]],
  [[1.05, 0.93], [1.09, 0.95], [1.13, 0.94], [1.17, 0.93]],
  [[1.52, 0.985], [1.6, 0.99], [1.66, 0.97], [1.7, 0.95]],
  [[1.5, 0.94], [1.57, 0.94], [1.65, 0.965], [1.7, 0.96]],
  [[1.62, 0.94], [1.66, 0.93], [1.7, 0.94], [1.75, 0.915], [1.8, 0.93]],
  [[1.91, 0.895], [1.95, 0.885], [2.03, 0.895]],
  [[0.018, 0.15], [0.028, 0.172], [0.05, 0.178], [0.072, 0.172], [0.082, 0.15]],
  [[0.018, 0.14], [0.028, 0.16], [0.05, 0.165], [0.072, 0.16], [0.082, 0.14]],
  [[0.02, 0.13], [0.03, 0.146], [0.05, 0.15], [0.07, 0.146], [0.08, 0.13]],
  [[0.108, 0.17], [0.12, 0.208], [0.138, 0.215], [0.156, 0.208], [0.168, 0.17]],
  [[0.11, 0.155], [0.12, 0.192], [0.138, 0.2], [0.156, 0.192], [0.168, 0.155]],
  [[0.11, 0.145], [0.12, 0.175], [0.138, 0.182], [0.156, 0.175], [0.17, 0.145]],
  [[0.11, 0.135], [0.12, 0.155], [0.138, 0.16], [0.156, 0.155], [0.17, 0.135]],
  [[0.183, 0.155], [0.194, 0.173], [0.207, 0.178], [0.22, 0.173], [0.233, 0.155]],
  [[0.185, 0.145], [0.195, 0.158], [0.207, 0.162], [0.22, 0.158], [0.23, 0.145]],
  [[0.253, 0.18], [0.263, 0.227], [0.276, 0.235], [0.29, 0.227], [0.302, 0.18]],
  [[0.253, 0.16], [0.263, 0.2], [0.276, 0.208], [0.29, 0.2], [0.302, 0.16]],
  [[0.255, 0.145], [0.264, 0.17], [0.276, 0.175], [0.29, 0.17], [0.3, 0.145]],
  [[0.31, 0.19], [0.322, 0.282], [0.337, 0.29], [0.35, 0.282], [0.36, 0.19]],
  [[0.322, 0.15], [0.33, 0.166], [0.337, 0.17], [0.346, 0.166], [0.353, 0.15]],
  [[0.39, 0.18], [0.404, 0.237], [0.42, 0.245], [0.436, 0.237], [0.45, 0.18]],
  [[0.39, 0.16], [0.404, 0.198], [0.42, 0.205], [0.436, 0.198], [0.45, 0.16]],
  [[0.39, 0.145], [0.404, 0.165], [0.42, 0.17], [0.436, 0.165], [0.452, 0.145]],
  [[0.47, 0.215], [0.478, 0.235], [0.488, 0.24], [0.498, 0.235], [0.506, 0.215]],
  [[0.472, 0.205], [0.48, 0.22], [0.488, 0.225], [0.497, 0.22], [0.505, 0.205]],
  [[0.53, 0.19], [0.542, 0.223], [0.557, 0.23], [0.572, 0.223], [0.585, 0.19]],
  [[0.53, 0.17], [0.542, 0.194], [0.557, 0.2], [0.572, 0.194], [0.585, 0.17]],
  [[0.667, 0.2], [0.68, 0.238], [0.694, 0.245], [0.708, 0.238], [0.722, 0.2]],
  [[0.667, 0.185], [0.68, 0.214], [0.694, 0.22], [0.708, 0.214], [0.722, 0.185]],
  [[0.667, 0.17], [0.68, 0.19], [0.694, 0.195], [0.71, 0.19], [0.725, 0.17]],
  [[0.745, 0.21], [0.757, 0.248], [0.77, 0.255], [0.783, 0.248], [0.795, 0.21]],
  [[0.747, 0.195], [0.758, 0.22], [0.77, 0.225], [0.784, 0.22], [0.797, 0.195]],
  [[0.75, 0.18], [0.76, 0.196], [0.77, 0.2], [0.784, 0.196], [0.797, 0.18]],
  [[0.805, 0.205], [0.818, 0.234], [0.831, 0.24], [0.845, 0.234], [0.858, 0.205]],
  [[0.805, 0.19], [0.818, 0.214], [0.831, 0.22], [0.846, 0.214], [0.86, 0.19]],
  [[0.805, 0.175], [0.818, 0.195], [0.831, 0.2], [0.846, 0.195], [0.86, 0.175]],
  [[0.94, 0.205], [0.954, 0.234], [0.968, 0.24], [0.98, 0.234], [0.99, 0.21]],
  [[0.94, 0.19], [0.954, 0.22], [0.968, 0.225], [0.985, 0.215], [1.0, 0.19]],
  [[0.945, 0.175], [0.955, 0.2], [0.968, 0.205], [0.985, 0.197], [1.0, 0.17]],
  [[0.005, 0.083], [0.1, 0.085], [0.25, 0.08], [0.32, 0.09]],
  [[0.005, 0.075], [0.1, 0.078], [0.24, 0.072], [0.36, 0.08]],
  [[0.005, 0.068], [0.1, 0.071], [0.22, 0.068], [0.36, 0.075]],
  [[0.955, 0.16], [1.0, 0.155], [1.07, 0.14], [1.18, 0.12], [1.22, 0.14], [1.27, 0.14], [1.39, 0.115], [1.47, 0.09]],
  [[0.96, 0.145], [1.03, 0.14], [1.1, 0.125], [1.18, 0.105], [1.25, 0.125], [1.3, 0.12], [1.4, 0.1], [1.47, 0.08]],
  [[0.97, 0.13], [1.04, 0.125], [1.11, 0.105], [1.17, 0.09], [1.2, 0.095], [1.24, 0.115]],
  [[0.98, 0.09], [1.02, 0.11], [1.09, 0.115], [1.16, 0.09], [1.2, 0.08]],
  [[1.0, 0.09], [1.05, 0.105], [1.09, 0.108], [1.14, 0.09]],
  [[1.02, 0.085], [1.09, 0.1], [1.13, 0.085]],
  [[1.04, 0.08], [1.09, 0.09], [1.12, 0.08]],
  [[1.2, 0.07], [1.25, 0.095], [1.3, 0.08], [1.4, 0.085], [1.47, 0.07]],
  [[1.22, 0.07], [1.3, 0.07], [1.4, 0.075], [1.46, 0.06]],
  [[1.25, 0.07], [1.3, 0.06], [1.4, 0.065], [1.45, 0.055]],
  [[1.42, 0.06], [1.47, 0.035], [1.46, 0.01]],
  [[1.44, 0.06], [1.5, 0.03], [1.49, 0.005]],
  [[1.41, 0.065], [1.45, 0.05], [1.45, 0.01]],
  [[1.46, 0.03], [1.5, 0.05], [1.6, 0.055], [1.7, 0.055]],
  [[1.45, 0.02], [1.5, 0.045], [1.6, 0.048]],
  [[1.72, 0.05], [1.78, 0.045], [1.8, 0.02]],
  [[1.7, 0.06], [1.8, 0.05], [1.81, 0.01]],
  [[0.41, 0.025], [0.48, 0.04], [0.56, 0.03], [0.6, 0.02]],
  [[0.2, 0.04], [0.25, 0.03], [0.32, 0.035], [0.42, 0.03]],
  [[0.72, 0.06], [0.85, 0.055], [0.92, 0.04], [1.03, 0.06]],
  [[0.72, 0.02], [0.9, 0.022], [1.03, 0.025], [1.06, 0.06]],
  [[0.49, 0.065], [0.57, 0.05], [0.62, 0.035], [0.58, 0.025]],
  [[1.65, 0.005], [1.7, 0.05], [1.78, 0.03], [1.79, 0.005]],
  [[1.68, 0.005], [1.72, 0.04], [1.77, 0.025], [1.78, 0.005]],
  [[1.675, 0.139], [1.646, 0.178], [1.593, 0.222], [1.584, 0.251], [1.613, 0.269], [1.716, 0.284], [1.757, 0.39], [1.782, 0.442], [1.86, 0.463], [2.066, 0.472], [2.354, 0.469], [2.477, 0.446], [2.416, 0.412], [2.189, 0.354], [2.033, 0.295], [1.984, 0.251], [1.959, 0.2], [1.926, 0.23], [1.893, 0.262], [1.86, 0.244], [1.845, 0.127]],
  [[1.65, 0.215], [1.655, 0.16], [1.68, 0.137], [1.72, 0.16], [1.73, 0.235], [1.74, 0.215], [1.757, 0.13], [1.79, 0.12], [1.845, 0.127]],
  [[1.76, 0.135], [1.8, 0.176], [1.845, 0.14], [1.81, 0.12], [1.77, 0.12]],
  [[1.366, 0.176], [1.469, 0.222], [1.544, 0.165], [1.5, 0.13]],
  [[1.41, 0.16], [1.47, 0.195], [1.52, 0.15]],
  [[1.43, 0.14], [1.47, 0.17], [1.5, 0.14]],
  [[1.89, 0.11], [1.95, 0.12], [2.03, 0.118], [2.07, 0.095]],
  [[1.89, 0.105], [1.93, 0.098], [2.0, 0.09]],
  [[1.95, 0.06], [2.0, 0.07], [2.03, 0.05], [2.06, 0.03], [2.1, 0.02], [2.1, 0.005]],
  [[4.623, 0.137], [4.658, 0.205], [4.712, 0.232], [4.767, 0.22], [4.8, 0.186], [4.8, 0.15]],
  [[4.623, 0.132], [4.67, 0.171], [4.726, 0.183], [4.78, 0.176], [4.8, 0.152]],
  [[4.89, 0.09], [4.9, 0.17], [4.945, 0.2], [4.985, 0.17], [4.99, 0.09]],
  [[4.9, 0.16], [4.945, 0.188], [4.98, 0.16]],
  [[4.91, 0.14], [4.945, 0.17], [4.975, 0.14]],
  [[4.915, 0.125], [4.945, 0.152], [4.975, 0.125]],
  [[4.81, 0.09], [4.825, 0.14], [4.856, 0.175], [4.885, 0.14], [4.89, 0.09]],
  [[4.825, 0.125], [4.856, 0.155], [4.88, 0.125]],
  [[4.83, 0.11], [4.856, 0.14], [4.88, 0.11]],
  [[4.73, 0.1], [4.74, 0.13], [4.775, 0.16], [4.8, 0.13], [4.81, 0.1]],
  [[4.745, 0.115], [4.775, 0.145], [4.798, 0.115]],
  [[4.58, 0.09], [4.63, 0.11], [4.66, 0.12], [4.65, 0.09]],
  [[4.59, 0.085], [4.63, 0.1], [4.67, 0.105]],
  [[4.67, 0.9], [4.68, 0.86], [4.71, 0.828], [4.745, 0.86], [4.76, 0.9]],
  [[4.675, 0.9], [4.685, 0.865], [4.71, 0.84], [4.74, 0.865], [4.755, 0.9]],
  [[4.68, 0.9], [4.69, 0.875], [4.71, 0.852], [4.735, 0.875], [4.75, 0.9]],
  [[4.69, 0.9], [4.695, 0.885], [4.71, 0.865], [4.73, 0.885], [4.745, 0.9]],
  [[4.87, 0.9], [4.885, 0.86], [4.92, 0.829], [4.95, 0.86], [4.965, 0.9]],
  [[4.88, 0.9], [4.89, 0.865], [4.92, 0.84], [4.945, 0.865], [4.955, 0.9]],
  [[4.885, 0.9], [4.895, 0.875], [4.92, 0.852], [4.94, 0.875], [4.95, 0.9]],
  [[4.76, 0.9], [4.77, 0.875], [4.79, 0.863], [4.815, 0.875], [4.82, 0.9]],
  [[4.825, 0.9], [4.835, 0.878], [4.855, 0.868], [4.875, 0.878], [4.885, 0.9]],
  [[4.96, 0.87], [4.98, 0.8], [5, 0.75]],
  [[4.97, 0.87], [4.985, 0.81], [5, 0.76]],
  [[4.975, 0.88], [4.99, 0.83], [5, 0.8]],
  [[4.8, 0.995], [4.85, 0.99], [4.92, 0.99], [4.94, 0.965], [5, 0.95]],
  [[4.76, 0.985], [4.82, 0.97], [4.85, 0.975], [4.91, 0.96], [4.99, 0.94]],
  [[4.88, 0.065], [4.95, 0.07], [5, 0.065]],
  [[4.87, 0.055], [4.95, 0.06], [5, 0.057]],
  [[4.87, 0.045], [4.93, 0.053], [5, 0.053]],
  [[4.84, 0.04], [4.88, 0.018], [4.95, 0.008], [5, 0.008]],
  [[4.82, 0.025], [4.87, 0.01], [4.93, 0.005]],
  [[4.72, 0.01], [4.75, 0.035], [4.79, 0.02], [4.8, 0.005]],
  [[4.73, 0.015], [4.755, 0.027], [4.78, 0.015]],
];

const contoursMedium: P[][] = [
  [[1.87, 0.94], [1.92, 0.93], [1.97, 0.93]],
  [[2.0, 0.96], [2.02, 0.93], [2.1, 0.94]],
  [[1.62, 0.97], [1.7, 0.97], [1.75, 0.985]],
  [[1.64, 0.95], [1.7, 0.955], [1.74, 0.97]],
  [[1.55, 0.99], [1.65, 0.985], [1.72, 0.985]],
  [[0, 0.925], [0.1, 0.918], [0.28, 0.925]],
  [[0.2, 0.93], [0.3, 0.925], [0.41, 0.93]],
  [[0.13, 0.88], [0.2, 0.895], [0.28, 0.89]],
  [[0.12, 0.9], [0.2, 0.91], [0.28, 0.905]],
  [[0.02, 0.87], [0.1, 0.875], [0.17, 0.885]],
  [[1.48, 0.12], [1.52, 0.14], [1.56, 0.14]],
  [[1.45, 0.09], [1.5, 0.1], [1.5, 0.06]],
  [[1.5, 0.06], [1.55, 0.04], [1.62, 0.04], [1.66, 0.055]],
  [[1.72, 0.125], [1.75, 0.12], [1.8, 0.11], [1.84, 0.095]],
  [[1.98, 0.1], [2.02, 0.1], [2.12, 0.085]],
  [[1.4, 0.14], [1.5, 0.13], [1.56, 0.1]],
  [[4.58, 0.1], [4.62, 0.115], [4.7, 0.115]],
  [[4.6, 0.9], [4.66, 0.89], [4.7, 0.9], [4.76, 0.88]],
  [[4.5, 0.89], [4.6, 0.9], [4.68, 0.87]],
  [[4.53, 0.9], [4.6, 0.92], [4.65, 0.9]],
];

const contoursHeavy: P[][] = [
  [[0, 0.81], [0.05, 0.85], [0.1, 0.865], [0.15, 0.875], [0.18, 0.88]],
  [[0.24, 0.875], [0.29, 0.82], [0.33, 0.82], [0.39, 0.865]],
  [[0.44, 0.88], [0.5, 0.855], [0.55, 0.825], [0.6, 0.83], [0.66, 0.855], [0.71, 0.86]],
  [[0.7, 0.86], [0.74, 0.83], [0.77, 0.82], [0.82, 0.835], [0.88, 0.85], [0.93, 0.83]],
  [[0.84, 0.825], [0.92, 0.82], [1.03, 0.815], [1.06, 0.84], [1.1, 0.9]],
  [[1.12, 0.88], [1.16, 0.84], [1.18, 0.83], [1.21, 0.84], [1.23, 0.87]],
  [[1.3, 0.92], [1.31, 0.87], [1.31, 0.82]],
  [[1.32, 0.92], [1.33, 0.88], [1.345, 0.86]],
  [[1.43, 0.92], [1.42, 0.86]],
  [[1.42, 0.86], [1.45, 0.83], [1.49, 0.82], [1.56, 0.855], [1.62, 0.88], [1.7, 0.92], [1.72, 0.945]],
  [[1.7, 0.91], [1.8, 0.925], [1.85, 0.93]],
  [[1.83, 0.925], [1.84, 0.9], [1.885, 0.895], [1.97, 0.93], [1.92, 0.94], [1.83, 0.925]],
  [[1.94, 0.91], [2.05, 0.915], [2.12, 0.935], [2.1, 0.92], [2.0, 0.905], [1.95, 0.9]],
  [[2.11, 0.91], [2.17, 0.935], [2.27, 0.94], [2.28, 0.925], [2.2, 0.905], [2.13, 0.905], [2.11, 0.91]],
  [[0.45, 0.82], [0.465, 0.835], [0.49, 0.825], [0.475, 0.805], [0.45, 0.82]],
  [[0.405, 0.785], [0.41, 0.795], [0.42, 0.79], [0.412, 0.778], [0.405, 0.785]],
  [[0.615, 0.77], [0.62, 0.785], [0.627, 0.775], [0.62, 0.76]],
  [[1.01, 0.21], [1.064, 0.173], [1.133, 0.157], [1.18, 0.135], [1.208, 0.164], [1.25, 0.188], [1.304, 0.166], [1.393, 0.142], [1.476, 0.118], [1.503, 0.088]],
  [[2.12, 0.04], [2.16, 0.055], [2.24, 0.05], [2.27, 0.03], [2.22, 0.02], [2.15, 0.02], [2.12, 0.04]],
  [[2.2, 0.02], [2.27, 0.025], [2.3, 0.01], [2.25, 0.002]],
  [[1.81, 0.03], [1.82, 0.05], [1.86, 0.05], [1.92, 0.04], [1.92, 0.02], [1.88, 0.008], [1.82, 0.01], [1.81, 0.03]],
  [[4.125, 0.958], [4.155, 0.968], [4.185, 0.958], [4.155, 0.948], [4.125, 0.958]],
  [[4.18, 0.05], [4.21, 0.06], [4.27, 0.05], [4.31, 0.02], [4.3, 0.005], [4.26, 0.01], [4.22, 0.035], [4.19, 0.03], [4.18, 0.05]],
  [[4.63, 0.885], [4.64, 0.892], [4.65, 0.885], [4.64, 0.878], [4.63, 0.885]],
  [[0.095, 0.13], [0.1, 0.22]],
  [[0.17, 0.15], [0.175, 0.2]],
  [[0.24, 0.15], [0.245, 0.22]],
  [[0.31, 0.15], [0.31, 0.2]],
  [[0.365, 0.15], [0.37, 0.23]],
  [[0.462, 0.15], [0.465, 0.21]],
  [[0.515, 0.15], [0.52, 0.22]],
  [[0.6, 0.15], [0.598, 0.25]],
  [[0.625, 0.17], [0.625, 0.25]],
  [[0.655, 0.15], [0.655, 0.22]],
  [[0.735, 0.16], [0.735, 0.22]],
  [[0.805, 0.16], [0.8, 0.24]],
  [[0.875, 0.16], [0.87, 0.22]],
  [[0.935, 0.16], [0.93, 0.25]],
];

const makeClosed = (pts: P[]): P[] => [...pts, pts[0], pts[1]];

function buildDatasets() {
  const out: any[] = [];
  const shape = (list: P[][], color: string, width: number, tension: number, loop: boolean) => {
    list.forEach((pts) => {
      const use = loop ? makeClosed(pts) : pts;
      out.push({
        data: use.map(([x, y]) => ({ x, y })),
        showLine: true, pointRadius: 0, tension,
        fill: color === "none" ? false : "shape",
        backgroundColor: color === "none" ? "transparent" : color,
        borderColor: "#000000", borderWidth: width,
      });
    });
  };
  shape(level02Regions, "#2a94e6", 0, 0.2, false);
  shape(level05Regions, "#25a0dd", 0, 0.2, false);
  shape(level11Regions, "#10b9b5", 2, 0.3, true);
  shape(level17Regions, "#5fcb7c", 2, 0.3, true);
  shape(level21Regions, "#a8c643", 2, 0.4, true);
  shape(level28Regions, "#fdb52f", 2, 0.4, true);
  shape(level36Regions, "#f7e61f", 2, 0.4, true);
  shape(blackStrips, "#000000", 1, 0.1, false);
  shape(blackMasses, "#000000", 2, 0.4, true);
  shape(contoursHeavy, "none", 6, 0.35, false);
  shape(contoursMedium, "none", 3.5, 0.4, false);
  shape(blueHoles, "#2e86f5", 2, 0.4, true);
  shape(lightCells, "#25a0dd", 2, 0.4, true);
  shape(deepBlueSpots, "#3a72f8", 2, 0.4, true);
  shape(indigoSpots, "#4a47ee", 1, 0.4, true);
  shape(whiteSpots, "#ffffff", 0, 0.4, true);
  shape(contoursOpen, "none", 2, 0.4, false);
  shape(contoursClosed, "none", 2, 0.4, true);
  const n = out.length;
  out.forEach((d, i) => { d.order = n - i; });
  return out;
}

const ink = "#262626";

const backdrop = {
  id: "backdrop",
  beforeDatasetsDraw(chart: any) {
    const { ctx, chartArea: a } = chart;
    ctx.save();
    ctx.fillStyle = "#2e86f5";
    ctx.fillRect(a.left, a.top, a.right - a.left, a.bottom - a.top);
    ctx.restore();
  },
};

const mainFrame = {
  id: "mainFrame",
  afterDatasetsDraw(chart: any) {
    const { ctx, chartArea: a, scales } = chart;
    ctx.save();
    ctx.strokeStyle = ink;
    ctx.lineWidth = 4;
    ctx.strokeRect(a.left, a.top, a.right - a.left, a.bottom - a.top);
    ctx.beginPath();
    scales.x.ticks.forEach((t: any) => {
      const px = scales.x.getPixelForValue(t.value);
      ctx.moveTo(px, a.bottom); ctx.lineTo(px, a.bottom - 13);
      ctx.moveTo(px, a.top); ctx.lineTo(px, a.top + 13);
    });
    scales.y.ticks.forEach((t: any) => {
      const py = scales.y.getPixelForValue(t.value);
      ctx.moveTo(a.left, py); ctx.lineTo(a.left + 13, py);
      ctx.moveTo(a.right, py); ctx.lineTo(a.right - 13, py);
    });
    ctx.stroke();
    ctx.restore();
  },
};

const barFrame = {
  id: "barFrame",
  afterDatasetsDraw(chart: any) {
    const { ctx, chartArea: a, scales } = chart;
    ctx.save();
    ctx.strokeStyle = ink;
    ctx.lineWidth = 4;
    ctx.strokeRect(a.left, a.top, a.right - a.left, a.bottom - a.top);
    ctx.beginPath();
    scales.y.ticks.forEach((t: any) => {
      const py = scales.y.getPixelForValue(t.value);
      ctx.moveTo(a.right, py); ctx.lineTo(a.right - 8, py);
    });
    ctx.stroke();
    ctx.restore();
  },
};

const labelFont = { family: "'Liberation Serif'", weight: "bold" as const, size: 48 };
const plainNumber = (v: any) => String(Number(Number(v).toFixed(1)));

export default function App() {
  const mainRef = useRef<HTMLCanvasElement>(null);
  const barRef = useRef<HTMLCanvasElement>(null);

  useEffect(() => {
    const main = new Chart(mainRef.current!, {
      type: "scatter",
      data: { datasets: buildDatasets() },
      plugins: [backdrop, mainFrame],
      options: {
        animation: false, responsive: false,
        layout: { padding: { top: 63, right: 162.5, left: 0, bottom: 0 } },
        plugins: { legend: { display: false }, tooltip: { enabled: false } },
        scales: {
          x: {
            type: "linear", min: 0, max: xTicksMax,
            afterFit: (s: any) => { s.height = 94; },
            grid: { display: false }, border: { display: false },
            ticks: { stepSize: 1, color: ink, font: labelFont, padding: 12, maxRotation: 0, callback: plainNumber },
            title: { display: true, text: "x", color: ink, font: labelFont, padding: { top: 0, bottom: 1 } },
          },
          y: {
            type: "linear", min: 0, max: 1,
            afterFit: (s: any) => { s.width = 117.5; },
            grid: { display: false }, border: { display: false },
            ticks: { stepSize: 0.2, color: ink, font: labelFont, padding: 5, labelOffset: 5, callback: plainNumber },
            title: { display: true, text: "y", color: ink, font: labelFont, padding: { top: -10, bottom: 0 } },
          },
        },
      },
    } as any);

    const bar = new Chart(barRef.current!, {
      type: "bar",
      data: {
        labels: ["colorbar"],
        datasets: [{
          data: [[colorbarTicks[0], colorbarTicks[colorbarTicks.length - 1]]],
          barPercentage: 1, categoryPercentage: 1, borderWidth: 0,
          backgroundColor: (c: any) => {
            const { chart } = c;
            if (!chart.chartArea) return colorbarStops[0][1];
            const s = chart.scales.y;
            const g = chart.ctx.createLinearGradient(0, s.getPixelForValue(-1.6), 0, s.getPixelForValue(3.8));
            colorbarStops.forEach(([v, col]) => g.addColorStop((v + 1.6) / 5.4, col));
            return g;
          },
        }],
      },
      plugins: [barFrame],
      options: {
        animation: false, responsive: false,
        layout: { padding: { top: 63.5, left: 22, right: 0, bottom: 94 } },
        plugins: { legend: { display: false }, tooltip: { enabled: false } },
        scales: {
          x: { display: false },
          y: {
            position: "right", min: -1.6, max: 3.8,
            afterBuildTicks: (s: any) => { s.ticks = colorbarTicks.map((value) => ({ value })); },
            afterFit: (s: any) => { s.width = 103; },
            grid: { display: false }, border: { display: false },
            ticks: { color: ink, font: labelFont, padding: 7, labelOffset: 5, autoSkip: false, callback: (v: any) => String(v) },
          },
        },
      },
    } as any);

    return () => { main.destroy(); bar.destroy(); };
  }, []);

  return (
    <div>
      <canvas ref={mainRef} width={1495} height={841} style={{ position: "fixed", left: 0, top: 0, display: "block" }} />
      <canvas ref={barRef} width={155} height={841} style={{ position: "fixed", left: 1340, top: 0, display: "block" }} />
    </div>
  );
}
